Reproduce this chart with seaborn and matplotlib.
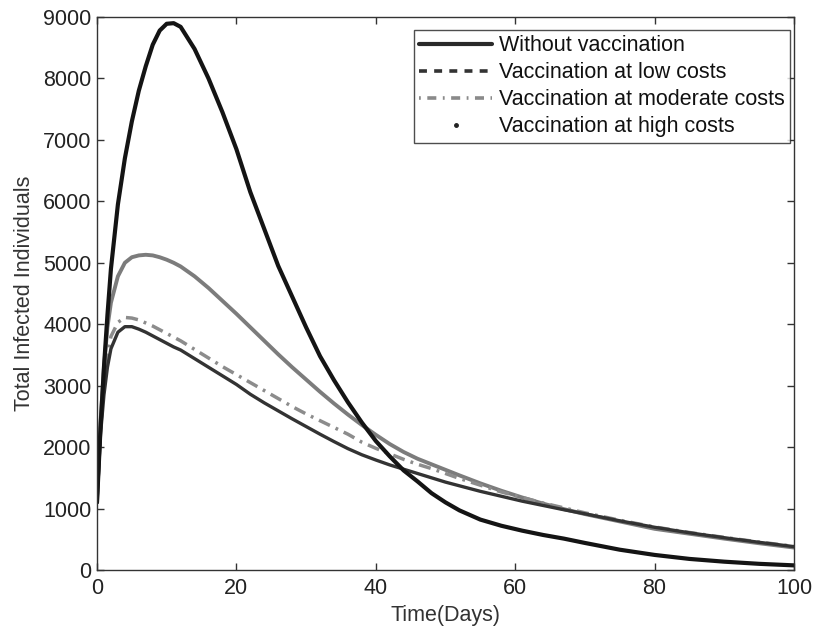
import numpy as np
import pandas as pd
import seaborn as sns
import matplotlib
matplotlib.use("Agg")
import matplotlib.pyplot as plt
from matplotlib.lines import Line2D

# Time grid (days) shared by all series
t = [0, 0.5, 1, 1.5, 2, 3, 4, 5, 6, 7, 8, 9, 10, 11, 12, 14, 16, 18, 20, 22,
     24, 26, 28, 30, 32, 34, 36, 38, 40, 42, 44, 46, 48, 50, 52, 55, 58, 61,
     64, 67, 70, 75, 80, 85, 90, 95, 100]

without_vacc = [1100, 2300, 3300, 4150, 4900, 5950, 6700, 7300, 7800, 8200,
                8550, 8780, 8890, 8900, 8840, 8480, 8000, 7450, 6850, 6150,
                5550, 4950, 4450, 3950, 3480, 3090, 2730, 2400, 2100, 1850,
                1620, 1440, 1250, 1100, 970, 820, 720, 640, 570, 510, 440,
                330, 245, 180, 135, 100, 75]

high_costs = [1100, 2400, 3300, 3950, 4350, 4780, 5000, 5090, 5120, 5130,
              5120, 5090, 5050, 5000, 4940, 4780, 4590, 4380, 4170, 3950,
              3730, 3510, 3300, 3100, 2900, 2710, 2530, 2360, 2200, 2050,
              1920, 1810, 1720, 1630, 1540, 1410, 1290, 1180, 1080, 990,
              910, 790, 670, 590, 510, 435, 365]

moderate_costs = [1100, 2300, 3000, 3500, 3800, 4030, 4110, 4100, 4070, 4020,
                  3970, 3910, 3850, 3790, 3730, 3590, 3450, 3310, 3180, 3050,
                  2920, 2790, 2660, 2540, 2430, 2320, 2210, 2080, 1980, 1890,
                  1800, 1720, 1650, 1570, 1490, 1380, 1270, 1180, 1090, 1010,
                  930, 810, 700, 610, 530, 455, 385]

low_costs = [1100, 2200, 2850, 3300, 3600, 3870, 3960, 3960, 3920, 3870,
             3810, 3750, 3690, 3630, 3580, 3440, 3300, 3160, 3020, 2860,
             2720, 2590, 2460, 2335, 2210, 2090, 1975, 1875, 1790, 1710,
             1640, 1570, 1500, 1430, 1370, 1280, 1200, 1120, 1050, 980,
             915, 800, 695, 605, 525, 450, 380]

labels = ["Without vaccination", "Vaccination at low costs",
          "Vaccination at moderate costs", "Vaccination at high costs"]

x_ticks = [0, 20, 40, 60, 80, 100]
y_ticks = [0, 1000, 2000, 3000, 4000, 5000, 6000, 7000, 8000, 9000]

FS = 15.5

sns.set_theme(style="white")
plt.rcParams["font.family"] = ["Liberation Sans", "DejaVu Sans"]

fig = plt.figure(figsize=(8.13, 6.28), dpi=100)
ax = fig.add_axes([0.1193, 0.0924, 0.8573, 0.8805])

# Curves drawn back to front
sns.lineplot(x=t, y=high_costs, ax=ax, color="#7c7c7c", linewidth=2.8,
             sort=False, estimator=None)
sns.lineplot(x=t, y=moderate_costs, ax=ax, color="#8c8c8c", linewidth=2.5,
             sort=False, estimator=None, linestyle=(0, (3.5, 1.8, 0.8, 1.8)))
sns.lineplot(x=t, y=low_costs, ax=ax, color="#333333", linewidth=2.4,
             sort=False, estimator=None)
sns.lineplot(x=t, y=without_vacc, ax=ax, color="#141414", linewidth=3.0,
             sort=False, estimator=None)

ax.set_xlim(0, 100)
ax.set_ylim(0, 9000)
ax.set_xticks(x_ticks)
ax.set_yticks(y_ticks)
ax.set_xticklabels([str(v) for v in x_ticks], fontsize=FS, color="#222222")
ax.set_yticklabels([str(v) for v in y_ticks], fontsize=FS, color="#222222")
ax.tick_params(direction="in", length=5, width=1, top=True, right=True,
               bottom=True, left=True, colors="#333333", labelcolor="#222222")
ax.tick_params(axis="x", pad=6)
ax.tick_params(axis="y", pad=4)
for side in ["top", "bottom", "left", "right"]:
    ax.spines[side].set_visible(True)
    ax.spines[side].set_color("#333333")
    ax.spines[side].set_linewidth(1.0)

ax.set_xlabel("Time(Days)", fontsize=FS, color="#333333", labelpad=4)
ax.set_ylabel("Total Infected Individuals", fontsize=FS, color="#333333",
              labelpad=6)

handles = [
    Line2D([], [], color="#2a2a2a", linewidth=3.0),
    Line2D([], [], color="#333333", linewidth=2.6, linestyle=(0, (2.2, 2.0))),
    Line2D([], [], color="#8a8a8a", linewidth=2.6,
           linestyle=(0, (0.5, 1.8, 2.5, 1.8))),
    Line2D([], [], color="#222222", linestyle="none", marker=".",
           markersize=5),
]
leg = ax.legend(handles, labels, loc="upper right",
                bbox_to_anchor=(0.994, 0.977), fontsize=FS, frameon=True,
                fancybox=False, edgecolor="#222222", handlelength=3.4,
                handletextpad=0.3, labelspacing=0.28, borderpad=0.25,
                borderaxespad=0)
leg.get_frame().set_linewidth(1.0)
for txt in leg.get_texts():
    txt.set_color("#111111")

fig.savefig("out.png", dpi=100, facecolor="white")
